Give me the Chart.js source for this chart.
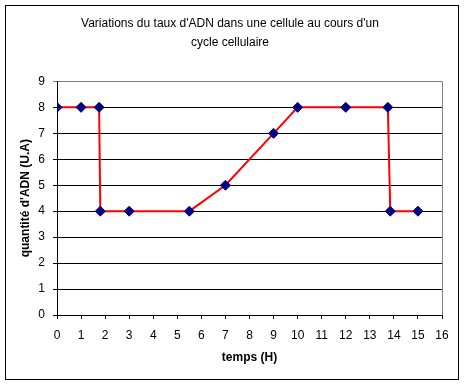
<!DOCTYPE html>
<html>
<head>
<meta charset="utf-8">
<script src="https://cdn.jsdelivr.net/npm/chart.js@4.4.0/dist/chart.umd.min.js"></script>
<style>
  body { margin: 0; background: #fff; }
  #wrap { width: 466px; height: 385px; }
</style>
</head>
<body>
<div id="wrap"><canvas id="adnChart" width="466" height="385"></canvas></div>
<script>
// Données
const temps = [0, 1, 1.75, 1.8, 3, 5.5, 7, 9, 10, 12, 13.75, 13.85, 15];
const quantiteADN = [8, 8, 8, 4, 4, 4, 5, 7, 8, 8, 8, 4, 4];
const titreLignes = ["Variations du taux d'ADN dans une cellule au cours d'un", "cycle cellulaire"];
const titreX = "temps (H)";
const titreY = "quantité d'ADN (U.A)";

const points = temps.map((t, i) => ({ x: t, y: quantiteADN[i] }));

// Cadre et fond façon Excel
const cadrePlugin = {
  id: 'cadre',
  beforeDraw(chart) {
    const ctx = chart.ctx;
    ctx.save();
    ctx.fillStyle = '#ffffff';
    ctx.fillRect(0, 0, chart.width, chart.height);
    ctx.restore();
  },
  afterDraw(chart) {
    const ctx = chart.ctx;
    const a = chart.chartArea;
    ctx.save();
    ctx.strokeStyle = '#808080';
    ctx.lineWidth = 1;
    ctx.beginPath();
    ctx.moveTo(Math.round(a.right) + 0.5, a.top);
    ctx.lineTo(Math.round(a.right) + 0.5, a.bottom);
    ctx.stroke();
    ctx.strokeStyle = '#000000';
    ctx.strokeRect(5.5, 5.5, 453, 374);
    ctx.restore();
  }
};

const ctx = document.getElementById("adnChart").getContext("2d");
new Chart(ctx, {
  type: 'scatter',
  data: {
    datasets: [{
      data: points,
      showLine: true,
      borderColor: '#ff0000',
      borderWidth: 2,
      tension: 0,
      pointStyle: 'rectRot',
      pointRadius: 5,
      pointHoverRadius: 5,
      pointBackgroundColor: '#000080',
      pointBorderColor: '#000080',
      pointBorderWidth: 1
    }]
  },
  options: {
    responsive: false,
    animation: false,
    events: [],
    layout: { padding: { left: 18, right: 24, top: 5, bottom: 20 } },
    plugins: {
      legend: { display: false },
      tooltip: { enabled: false },
      title: {
        display: true,
        text: titreLignes,
        color: '#000',
        font: { family: 'Liberation Sans', size: 12, weight: 'normal', lineHeight: 1.6 },
        padding: { top: 9, bottom: 29 }
      }
    },
    scales: {
      x: {
        type: 'linear',
        min: 0,
        max: 16,
        afterFit: s => { s.height = 50; },
        ticks: { stepSize: 1, color: '#000', padding: 9, font: { family: 'Liberation Sans', size: 12 } },
        grid: { drawOnChartArea: false, drawTicks: true, tickLength: 4, color: '#000' },
        border: { color: '#000', width: 1 },
        title: { display: true, text: titreX, color: '#000', padding: 0,
          font: { family: 'Liberation Sans', size: 12, weight: 'bold', lineHeight: 1.2 } }
      },
      y: {
        min: 0,
        max: 9,
        afterFit: s => { s.width = 39; },
        ticks: { stepSize: 1, color: '#000', padding: 8, font: { family: 'Liberation Sans', size: 12 } },
        grid: {
          tickLength: 4,
          color: c => (c.tick && c.tick.value === 9 ? '#808080' : '#000'),
          lineWidth: 1
        },
        border: { color: '#000', width: 1 },
        title: { display: true, text: titreY, color: '#000', padding: 0,
          font: { family: 'Liberation Sans', size: 12, weight: 'bold', lineHeight: 1.2 } }
      }
    }
  },
  plugins: [cadrePlugin]
});
</script>
</body>
</html>
